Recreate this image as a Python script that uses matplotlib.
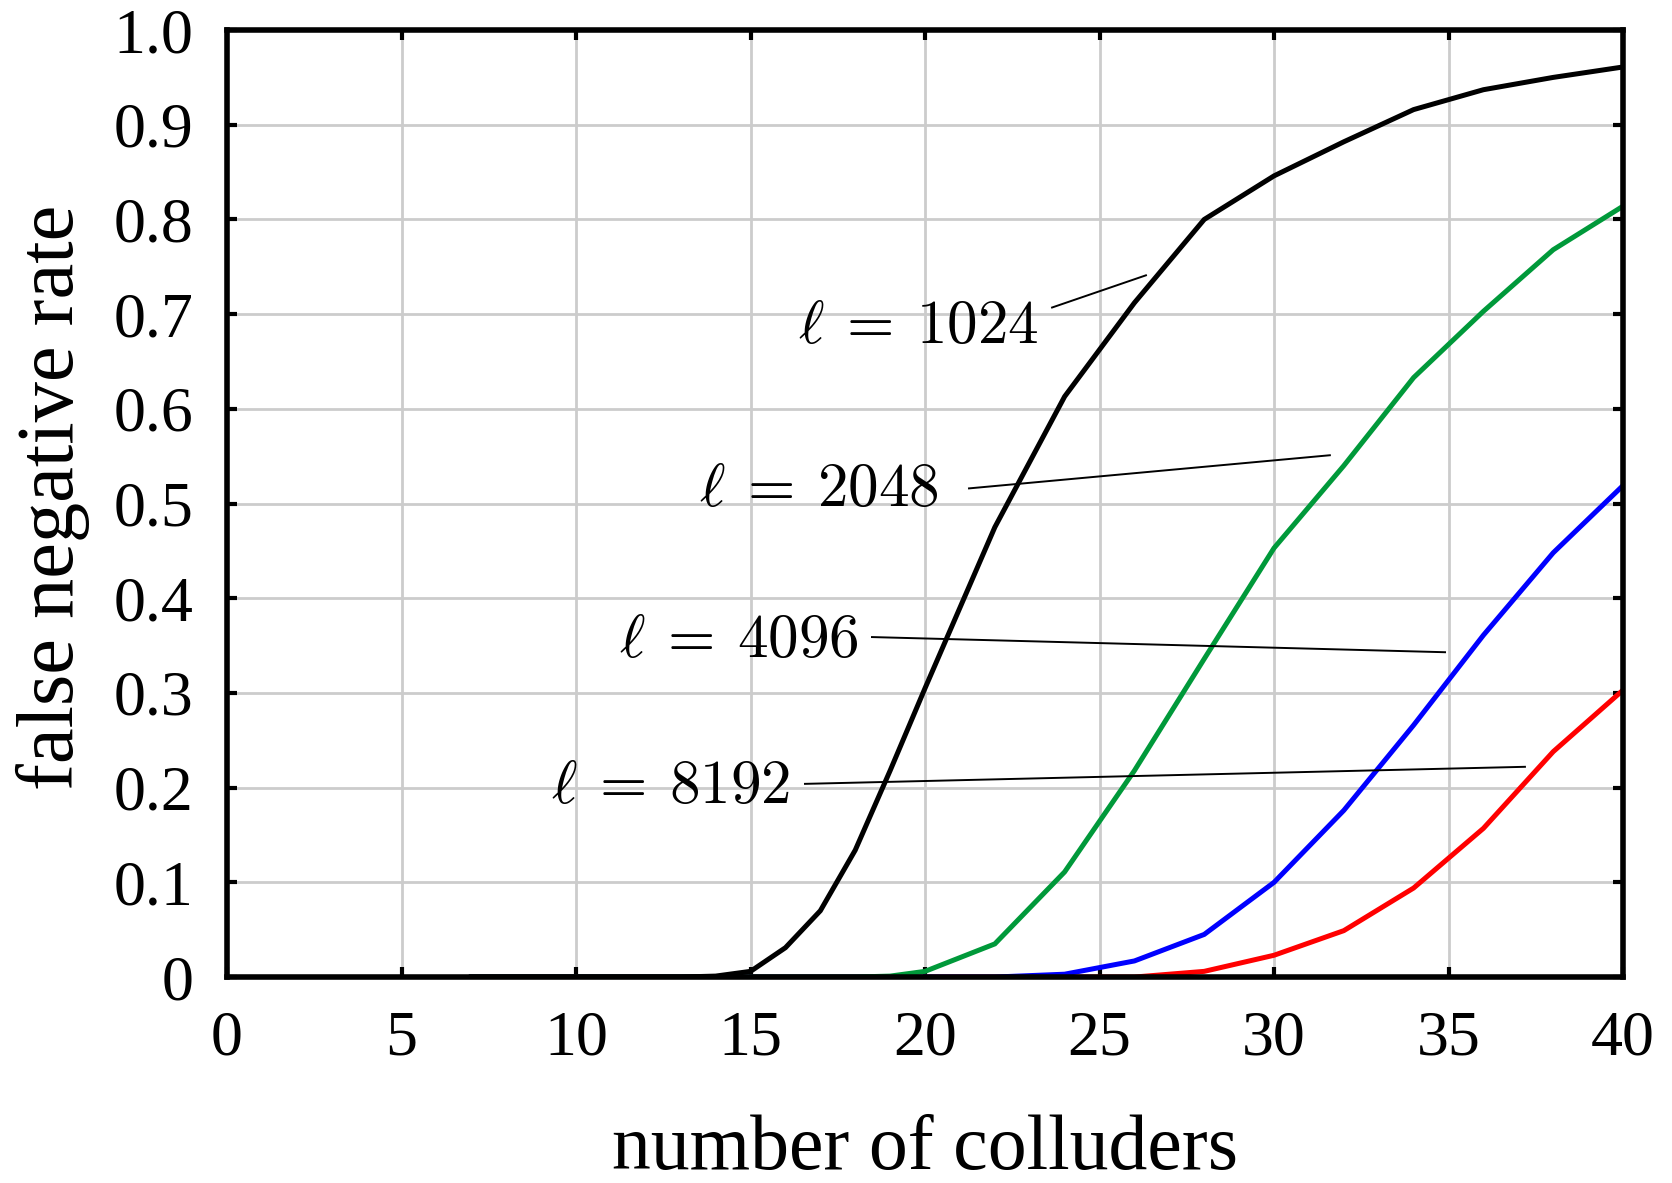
import numpy as np
import matplotlib
matplotlib.use("Agg")
import matplotlib.pyplot as plt

plt.rcParams['font.family'] = ['Liberation Serif', 'DejaVu Serif']
plt.rcParams['mathtext.fontset'] = 'cm'

# number of colluders
colluders = [7, 8, 9, 10, 11, 12, 13, 14, 15, 16, 17, 18, 19, 20,
             22, 24, 26, 28, 30, 32, 34, 36, 38, 40]

# false negative rate per code length
fnr_1024 = [0, 0, 0, 0, 0, 0, 0, 0.001, 0.006, 0.031, 0.070, 0.134, 0.218, 0.305,
            0.475, 0.613, 0.712, 0.800, 0.846, 0.882, 0.916, 0.937, 0.950, 0.961]
fnr_2048 = [0, 0, 0, 0, 0, 0, 0, 0, 0, 0, 0, 0, 0.001, 0.006,
            0.035, 0.111, 0.218, 0.336, 0.453, 0.540, 0.633, 0.703, 0.768, 0.814]
fnr_4096 = [0, 0, 0, 0, 0, 0, 0, 0, 0, 0, 0, 0, 0, 0,
            0, 0.003, 0.017, 0.045, 0.100, 0.176, 0.266, 0.361, 0.448, 0.519]
fnr_8192 = [0, 0, 0, 0, 0, 0, 0, 0, 0, 0, 0, 0, 0, 0,
            0, 0, 0, 0.006, 0.023, 0.049, 0.094, 0.157, 0.238, 0.303]

series = [fnr_1024, fnr_2048, fnr_4096, fnr_8192]
labels = [r'$\ell\:=\:1024$', r'$\ell\:=\:2048$', r'$\ell\:=\:4096$', r'$\ell\:=\:8192$']
colors = ['black', '#00993a', '#0000ff', '#ff0000']

# label text anchor (right edge) and leader line (start, end) in data coords
label_pos = [(23.25, 0.685), (20.4, 0.513), (18.1, 0.354), (16.15, 0.199)]
leader_lines = [((23.64, 0.707), (26.33, 0.741)),
                ((21.26, 0.516), (31.6, 0.551)),
                ((18.48, 0.359), (34.9, 0.343)),
                ((16.56, 0.204), (37.19, 0.222))]

fig = plt.figure(figsize=(16.72, 11.83), dpi=100)
ax = fig.add_axes([0.1358, 0.1741, 0.8349, 0.8005])

for ys, c in zip(series[::-1], colors[::-1]):
    ax.plot(colluders, ys, color=c, lw=3.6, solid_joinstyle='miter')

for lab, (tx, ty), ((x0, y0), (x1, y1)) in zip(labels, label_pos, leader_lines):
    ax.text(tx, ty, lab, fontsize=44, ha='right', va='center')
    ax.plot([x0, x1], [y0, y1], color='black', lw=1.4)

ax.set_xlim(0, 40)
ax.set_ylim(0, 1.0)
ax.set_xticks(np.arange(0, 41, 5))
ax.set_yticks(np.arange(0, 1.01, 0.1))
ax.set_yticklabels(['0'] + ['%.1f' % v for v in np.arange(0.1, 1.01, 0.1)])
ax.grid(True, color='#cccccc', lw=2.0)
ax.set_axisbelow(True)

ax.tick_params(direction='in', length=7.5, width=3, top=True, right=True,
               labelsize=46, colors='black')
ax.tick_params(axis='x', pad=24)
ax.tick_params(axis='y', pad=24)
for sp in ax.spines.values():
    sp.set_linewidth(4)

ax.set_xlabel('number of colluders', fontsize=56)
ax.set_ylabel('false negative rate', fontsize=58)
ax.xaxis.label.set_va('center')
ax.yaxis.label.set_va('center')
ax.xaxis.set_label_coords(0.5, -0.183)
ax.yaxis.set_label_coords(-0.125, 0.506)

fig.savefig('out.png', dpi=100)
